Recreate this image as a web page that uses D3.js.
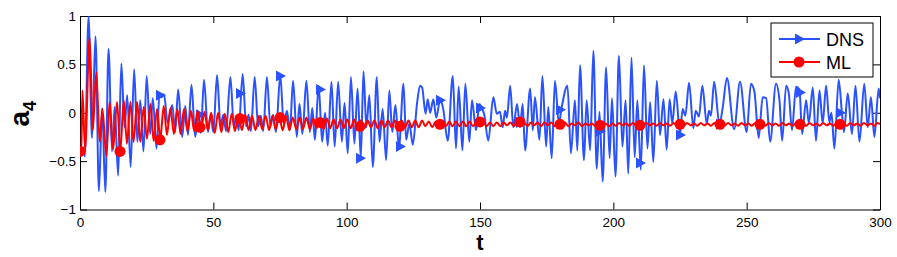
<!DOCTYPE html>
<html>
<head>
<meta charset="utf-8">
<script src="https://cdn.jsdelivr.net/npm/d3@7"></script>
<style>
    body { margin: 0; background: #fff; }
    svg { font-family: "Liberation Sans", Arial, Helvetica, sans-serif; }
    .tick text { font-size: 13.5px; fill: #000; }
    .domain, .tick line { stroke: #000; stroke-width: 1; }
</style>
</head>
<body>
<div id="chart"></div>
<script>

// DNS signal as [t, a4] turning points
var dnsPoints = [
    [0,-0.40],[1.2,-0.36],[1.8,-0.45],[3.2,0.99],[4.5,-0.26],[5.8,0.79],[7.1,-0.81],[8.3,0.05],[9.5,-0.82],
    [10.7,0.66],[12.0,-0.40],[13.0,0.06],[14.3,-0.65],[15.5,0.51],[16.7,-0.15],[17.7,0.18],[19.0,-0.56],
    [20.3,0.45],[21.5,-0.30],[22.6,0.13],[23.8,-0.40],[25.0,0.38],[26.3,-0.22],[27.3,0.15],[28.7,-0.37],
    [29.8,0.20],[30.6,0.16],[31.5,0.19],[32.9,-0.11],[34.6,0.08],[35.7,-0.20],[36.8,0.24],[38.3,-0.25],
    [39.5,0.07],[40.5,-0.23],[41.8,0.29],[43.2,-0.25],[44.4,0.0],[45.3,-0.21],[46.5,0.34],[48.0,-0.20],
    [49.0,-0.02],[50.0,-0.20],[51.4,0.39],[52.7,-0.14],[53.7,-0.02],[54.8,-0.19],[56.4,0.37],[57.7,-0.15],
    [58.6,-0.03],[59.5,-0.18],[61.0,0.40],[62.3,-0.14],[63.2,-0.02],[64.1,-0.19],[65.5,0.37],[66.8,-0.14],
    [67.8,-0.03],[68.7,-0.19],[70.1,0.37],[71.4,-0.14],[72.4,-0.02],[73.5,-0.20],[75.1,0.39],[76.4,-0.12],
    [77.6,0.02],[78.7,-0.18],[79.9,0.33],[81.3,-0.25],[82.3,0.09],[83.4,-0.22],[84.9,0.33],[86.2,-0.20],
    [87.1,0.05],[88.1,-0.28],[89.5,0.28],[90.8,-0.30],[91.9,0.0],[92.9,-0.34],[94.3,0.32],[95.5,-0.35],
    [96.8,0.32],[98.2,-0.30],[99.2,0.10],[100.4,-0.42],[101.6,0.37],[102.9,-0.32],[104.1,0.25],[105.3,-0.47],
    [106.3,0.43],[107.4,-0.15],[108.5,0.18],[109.8,-0.56],[111.3,0.37],[112.3,-0.30],[113.5,0.04],[114.8,-0.49],
    [116.0,0.23],[117.1,-0.20],[118.3,0.08],[119.6,-0.36],[121.3,0.30],[122.3,-0.28],[123.5,-0.11],[124.8,-0.33],
    [126.4,0.10],[127.5,0.28],[128.3,0.26],[129.6,-0.01],[130.4,0.14],[131.3,0.0],[132.5,0.14],[133.6,-0.05],
    [135.1,0.14],[136.2,0.04],[137.9,-0.29],[139.8,0.38],[141.0,-0.37],[142.0,0.27],[143.4,-0.39],[144.5,0.30],
    [146.0,-0.30],[147.0,0.13],[148.5,-0.18],[149.8,0.09],[150.5,0.06],[151.6,-0.02],[153.1,-0.29],[155.0,0.16],
    [156.3,-0.01],[157.5,0.01],[158.5,-0.15],[159.4,0.02],[160.1,-0.05],[161.3,0.28],[162.5,-0.15],[163.9,0.09],
    [165.0,-0.15],[166.0,0.09],[166.9,-0.39],[168.8,0.25],[169.8,-0.18],[170.6,0.16],[172.3,-0.28],[173.4,0.38],
    [174.8,-0.35],[175.6,0.06],[176.9,-0.47],[178.1,0.33],[179.6,-0.11],[180.6,0.05],[182.8,0.28],[184.1,-0.42],
    [185.6,0.13],[186.5,-0.39],[187.5,0.49],[189.0,-0.49],[190.0,0.13],[191.3,-0.39],[192.5,0.64],[193.8,-0.58],
    [194.8,0.01],[196.0,-0.71],[197.3,0.47],[198.6,-0.47],[199.5,0.15],[200.8,-0.66],[202.1,0.59],[203.4,-0.35],
    [204.6,0.13],[205.6,-0.63],[206.8,0.57],[208.0,-0.46],[209.0,0.13],[210.3,-0.59],[211.5,0.49],[212.8,-0.37],
    [213.8,0.11],[215.0,-0.51],[216.3,0.33],[217.5,-0.23],[218.8,0.14],[220.0,-0.38],[221.1,0.14],[222.1,-0.11],
    [223.4,0.22],[225.0,-0.22],[226.0,0.04],[227.0,-0.03],[228.4,0.31],[230.0,-0.16],[230.9,0.02],[232.1,-0.04],
    [233.4,0.28],[235.0,-0.11],[235.9,0.02],[236.6,-0.03],[237.8,0.32],[239.8,-0.12],[241.0,0.05],[242.6,0.36],
    [245.3,-0.17],[247.5,0.32],[250.0,-0.20],[251.6,0.30],[252.9,0.22],[254.5,-0.26],[256.0,0.16],[257.3,0.15],
    [258.8,-0.30],[261.0,0.30],[262.3,0.13],[263.3,-0.29],[264.8,0.28],[265.8,0.20],[267.0,-0.18],[268.5,0.27],
    [269.8,0.24],[270.8,-0.22],[272.3,0.13],[273.3,-0.11],[274.8,0.26],[276.0,-0.29],[277.3,0.23],[278.5,-0.11],
    [279.8,0.28],[281.0,-0.10],[281.8,0.0],[282.9,-0.37],[284.5,0.34],[285.8,-0.03],[286.5,-0.20],[287.9,0.20],
    [289.5,-0.22],[290.8,0.28],[292.3,-0.30],[294.1,0.30],[295.4,-0.15],[296.6,0.16],[297.9,-0.25],[299.5,0.25],
    [300,0.15]
];

// ML prediction, [t, a4] turning points
var mlPoints = [
    [0,-0.40],[0.5,-0.40],[0.9,0.23],[1.9,-0.38],[3.6,0.78],[4.8,-0.18],[6.1,0.42],[7.4,-0.30],[8.4,0.04],
    [9.9,-0.45],[11.1,0.11],[12.4,-0.38],[13.9,0.11],[15.1,-0.40],[16.4,0.13],[17.6,-0.32],[18.9,0.11],
    [20.1,-0.30],[21.4,0.11],[22.6,-0.30],[23.9,0.06],[25.1,-0.27],[26.4,0.09],[27.6,-0.29],[28.9,0.04],
    [30.1,-0.27],[31.4,0.07],[32.6,-0.23],[33.9,0.05],[35.2,-0.22],[36.5,0.04],[37.7,-0.22],[39.0,0.04],
    [40.3,-0.19],[41.6,0.02],[42.8,-0.19],[44.1,0.02],[45.4,-0.17],[46.7,0.01],[47.9,-0.18],[49.2,0.0],
    [50.5,-0.21],[51.8,0.0],[53.0,-0.20],[54.3,-0.01],[55.6,-0.20],[56.9,-0.01],[58.1,-0.19],[59.4,-0.02],
    [60.7,-0.18],[62.0,-0.02],[63.2,-0.18],[64.5,-0.03],[65.8,-0.18],[67.1,-0.03],[68.3,-0.17],[69.6,-0.03],
    [70.9,-0.18],[72.2,-0.03],[73.4,-0.17],[74.7,-0.04],[76.0,-0.18],[77.3,-0.04],[78.5,-0.18],[79.8,-0.05],
    [81.1,-0.17],[82.4,-0.05],[83.6,-0.17],[84.9,-0.05],[86.2,-0.17],[87.5,-0.06],[88.7,-0.16],[90.0,-0.06],
    [91.3,-0.17],[92.6,-0.06],[93.8,-0.16],[95.1,-0.07],[96.4,-0.16],[97.7,-0.07],[98.9,-0.16],[100.2,-0.07],
    [101.5,-0.16],[102.8,-0.07],[104.0,-0.16],[105.3,-0.08],[106.6,-0.16],[107.9,-0.08],[109.1,-0.15],[110.4,-0.08],
    [111.7,-0.16],[113.0,-0.08],[114.2,-0.15],[115.5,-0.08],[116.8,-0.15],[118.1,-0.08],[119.3,-0.15],[120.6,-0.08],
    [121.9,-0.15],[123.2,-0.08],[124.4,-0.15],[125.7,-0.08],[127.0,-0.15],[128.3,-0.08],[129.5,-0.14],[130.8,-0.09],
    [132.1,-0.15],[133.4,-0.09],[134.6,-0.14],[135.9,-0.09],[137.2,-0.14],[138.5,-0.09],[139.7,-0.14],[141.0,-0.09],
    [142.3,-0.14],[143.6,-0.09],[144.8,-0.14],[146.1,-0.09],[147.4,-0.14],[148.7,-0.09],[149.9,-0.13],[151.2,-0.09],
    [152.5,-0.14],[153.8,-0.10],[155.0,-0.14],[156.3,-0.10],[157.6,-0.14],[158.9,-0.10],[160.1,-0.13],[161.4,-0.10],
    [162.7,-0.14],[164.0,-0.10],[165.2,-0.13],[166.5,-0.10],[167.8,-0.14],[169.1,-0.10],[170.3,-0.13],[171.6,-0.10],
    [172.9,-0.14],[174.2,-0.10],[175.4,-0.13],[176.7,-0.10],[178.0,-0.14],[179.3,-0.10],[180.5,-0.13],[181.8,-0.10],
    [183.1,-0.14],[184.4,-0.11],[185.6,-0.13],[186.9,-0.10],[188.2,-0.14],[189.5,-0.11],[190.7,-0.13],[192.0,-0.11],
    [193.3,-0.14],[194.6,-0.11],[195.8,-0.13],[197.1,-0.11],[198.4,-0.14],[199.7,-0.11],[200.9,-0.135],[202.2,-0.105],
    [203.5,-0.13],[204.8,-0.11],[206.0,-0.135],[207.3,-0.105],[208.6,-0.13],[209.9,-0.11],[211.1,-0.135],[212.4,-0.105],
    [213.7,-0.13],[215.0,-0.11],[216.2,-0.135],[217.5,-0.105],[218.8,-0.13],[220.1,-0.11],[221.3,-0.135],[222.6,-0.105],
    [223.9,-0.13],[225.2,-0.11],[226.4,-0.135],[227.7,-0.105],[229.0,-0.13],[230.3,-0.11],[231.5,-0.135],[232.8,-0.105],
    [234.1,-0.13],[235.4,-0.11],[236.6,-0.135],[237.9,-0.105],[239.2,-0.13],[240.5,-0.11],[241.7,-0.135],[243.0,-0.105],
    [244.3,-0.13],[245.6,-0.11],[246.8,-0.135],[248.1,-0.105],[249.4,-0.13],[250.7,-0.11],[251.9,-0.135],[253.2,-0.105],
    [254.5,-0.13],[255.8,-0.11],[257.0,-0.135],[258.3,-0.105],[259.6,-0.13],[260.9,-0.11],[262.1,-0.135],[263.4,-0.105],
    [264.7,-0.13],[266.0,-0.11],[267.2,-0.135],[268.5,-0.105],[269.8,-0.13],[271.1,-0.11],[272.3,-0.135],[273.6,-0.105],
    [274.9,-0.13],[276.2,-0.11],[277.4,-0.135],[278.7,-0.105],[280.0,-0.13],[281.3,-0.11],[282.5,-0.135],[283.8,-0.105],
    [285.1,-0.13],[286.4,-0.11],[287.6,-0.135],[288.9,-0.105],[290.2,-0.13],[291.5,-0.11],[292.7,-0.135],[294.0,-0.105],
    [295.3,-0.13],[296.6,-0.11],[297.8,-0.135],[299.1,-0.105],[300,-0.12]
];

// marker positions (every 15 time units)
var markerTimes = [0,15,30,45,60,75,90,105,120,135,150,165,180,195,210,225,240,255,270,285];
var dnsMarkerValues = [-0.40,-0.40,0.18,-0.02,0.20,0.38,0.24,-0.47,-0.35,0.13,0.05,-0.10,0.03,-0.19,-0.52,-0.23,-0.12,-0.12,0.21,0.0];
var mlMarkerValues = [-0.40,-0.40,-0.28,-0.15,-0.06,-0.05,-0.10,-0.14,-0.14,-0.12,-0.095,-0.095,-0.12,-0.13,-0.13,-0.12,-0.12,-0.12,-0.12,-0.12];

var xTicks = [0,50,100,150,200,250,300];
var yTicks = [-1,-0.5,0,0.5,1];
var seriesNames = ["DNS","ML"];

var blue = "#2a52ff";
var red = "#ff0000";

var width = 897, height = 257;
var margin = {top: 16, right: 17, bottom: 47.5, left: 80};
var plotW = width - margin.left - margin.right;
var plotH = height - margin.top - margin.bottom;

var svg = d3.select("#chart").append("svg")
    .attr("width", width)
    .attr("height", height);

var x = d3.scaleLinear().domain([0, 300]).range([0, plotW]);
var y = d3.scaleLinear().domain([-1, 1]).range([plotH, 0]);

var g = svg.append("g").attr("transform", "translate(" + margin.left + "," + margin.top + ")");

svg.append("defs").append("clipPath").attr("id", "clip")
    .append("rect").attr("width", plotW).attr("height", plotH);

function fmt(v) { return d3.format("")(v).replace("-", "\u2212"); }

// axes: ticks point inward, matlab style box
g.append("g").attr("transform", "translate(0," + plotH + ")")
    .call(d3.axisBottom(x).tickValues(xTicks).tickSizeInner(-7).tickSizeOuter(0).tickPadding(8).tickFormat(fmt));
g.append("g")
    .call(d3.axisTop(x).tickValues(xTicks).tickSizeInner(-7).tickSizeOuter(0).tickFormat(""));
g.append("g")
    .call(d3.axisLeft(y).tickValues(yTicks).tickSizeInner(-7).tickSizeOuter(0).tickPadding(4).tickFormat(fmt));
g.append("g").attr("transform", "translate(" + plotW + ",0)")
    .call(d3.axisRight(y).tickValues(yTicks).tickSizeInner(-7).tickSizeOuter(0).tickFormat(""));

var line = d3.line()
    .x(function (d) { return x(d[0]); })
    .y(function (d) { return y(d[1]); })
    .curve(d3.curveMonotoneX);

var plot = g.append("g").attr("clip-path", "url(#clip)");

var triangle = "M-4,-5.5L-4,5.5L6,0Z";

// DNS line + triangle markers
plot.append("path").datum(dnsPoints)
    .attr("d", line)
    .attr("fill", "none")
    .attr("stroke", blue)
    .attr("stroke-width", 2)
    .attr("stroke-linejoin", "round");

plot.selectAll(".dnsMarker").data(markerTimes)
    .enter().append("path")
    .attr("class", "dnsMarker")
    .attr("d", triangle)
    .attr("transform", function (d, i) { return "translate(" + x(d) + "," + y(dnsMarkerValues[i]) + ")"; })
    .attr("fill", blue);

// ML line + circle markers
plot.append("path").datum(mlPoints)
    .attr("d", line)
    .attr("fill", "none")
    .attr("stroke", red)
    .attr("stroke-width", 2)
    .attr("stroke-linejoin", "round");

plot.selectAll(".mlMarker").data(markerTimes)
    .enter().append("circle")
    .attr("class", "mlMarker")
    .attr("cx", function (d) { return x(d); })
    .attr("cy", function (d, i) { return y(mlMarkerValues[i]); })
    .attr("r", 5.5)
    .attr("fill", red);

// axis labels
svg.append("text")
    .attr("x", margin.left + plotW / 2)
    .attr("y", 250)
    .attr("text-anchor", "middle")
    .attr("font-size", 22)
    .attr("font-weight", "bold")
    .text("t");

var ylab = svg.append("text")
    .attr("transform", "translate(29," + (margin.top + plotH / 2 + 1) + ") rotate(-90)")
    .attr("text-anchor", "middle")
    .attr("font-size", 28)
    .attr("font-weight", "bold");
ylab.append("tspan").text("a");
ylab.append("tspan").attr("font-size", 18).attr("dy", 7).text("4");

// legend
var legend = svg.append("g").attr("transform", "translate(771,23)");
legend.append("rect")
    .attr("width", 102).attr("height", 54)
    .attr("fill", "#fff").attr("stroke", "#000").attr("stroke-width", 1);

var rows = legend.selectAll(".row").data(seriesNames)
    .enter().append("g")
    .attr("transform", function (d, i) { return "translate(0," + (16 + i * 23) + ")"; });

rows.append("line")
    .attr("x1", 8).attr("x2", 49).attr("y1", 0).attr("y2", 0)
    .attr("stroke", function (d, i) { return i == 0 ? blue : red; })
    .attr("stroke-width", 2);

rows.each(function (d, i) {
    var r = d3.select(this);
    if (i == 0) {
        r.append("path").attr("d", triangle).attr("transform", "translate(28,0)").attr("fill", blue);
    } else {
        r.append("circle").attr("cx", 28).attr("cy", 0).attr("r", 5.5).attr("fill", red);
    }
});

rows.append("text")
    .attr("x", 55)
    .attr("y", 6.5)
    .attr("font-size", 18)
    .text(function (d) { return d; });

</script>
</body>
</html>
